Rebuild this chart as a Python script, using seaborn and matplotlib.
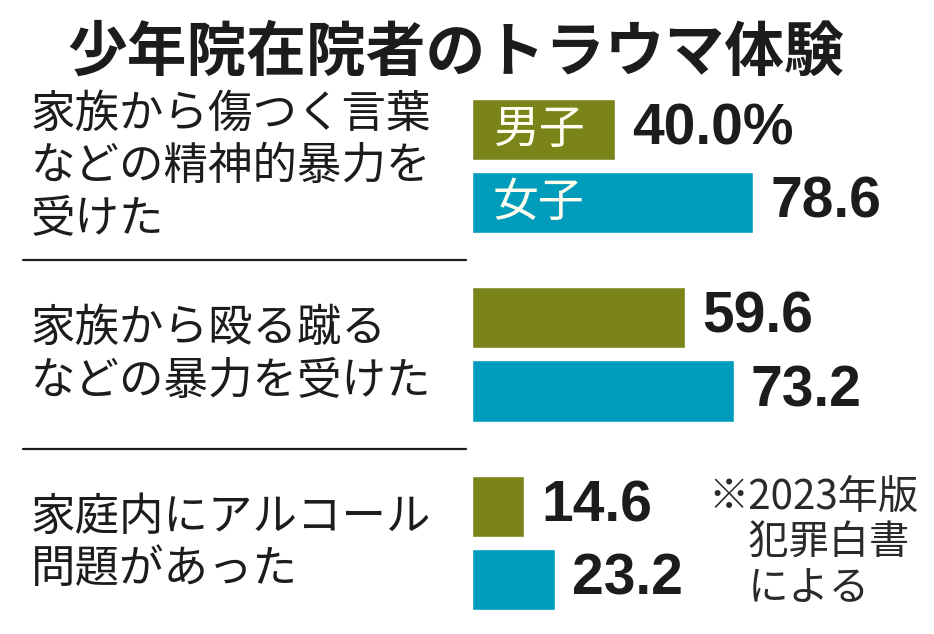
import pandas as pd
import matplotlib.pyplot as plt
import matplotlib.transforms as mtransforms
import seaborn as sns

# Data (percent)
items = [
    "家族から傷つく言葉\nなどの精神的暴力を\n受けた",
    "家族から殴る蹴る\nなどの暴力を受けた",
    "家庭内にアルコール\n問題があった",
]
male = [40.0, 59.6, 14.6]
female = [78.6, 73.2, 23.2]
sex_labels = ["男子", "女子"]

title = "少年院在院者のトラウマ体験"
note = "※2023年版\n\u3000犯罪白書\n\u3000による"

olive = "#7b8419"
teal = "#009cbc"
ink = "#1c1c1c"

df = pd.DataFrame({
    "item": items * 2,
    "value": male + female,
    "sex": [sex_labels[0]] * len(items) + [sex_labels[1]] * len(items),
})

sns.set_theme(style="white")
plt.rcParams["font.family"] = ["Noto Sans CJK JP", "DejaVu Sans"]

fig = plt.figure(figsize=(9.34, 6.34), dpi=100)
ax = fig.add_axes([472 / 934, 9 / 634, 462 / 934, 535 / 634])

sns.barplot(
    data=df, y="item", x="value", hue="sex", orient="h",
    palette=[olive, teal], width=0.775, gap=0.164,
    legend=False, ax=ax, saturation=1,
)

ax.set_xlim(0, 462 / 3.58)
ax.set_ylim(2.435, -0.403)
ax.set_axis_off()

# value labels at the end of each bar
for i, cont in enumerate(ax.containers):
    vals = male if i == 0 else female
    labels = [f"{v:.1f}" for v in vals]
    if i == 0:
        labels[0] = labels[0] + "%"
    ax.bar_label(cont, labels=labels, padding=12,
                 fontsize=41, fontweight="bold", color=ink,
                 family="Liberation Sans")

# sex labels inside the first pair of bars
for i, cont in enumerate(ax.containers):
    bar = cont[0]
    ax.annotate(sex_labels[i], xy=(0, bar.get_y() + bar.get_height() / 2),
                xytext=(15, 0), textcoords="offset points",
                ha="left", va="center", fontsize=33, color="#fffdf0")

# category labels on the left
trans = mtransforms.blended_transform_factory(fig.transFigure, ax.transData)
for i, lab in enumerate(items):
    ax.text(31 / 934, i, lab, transform=trans, ha="left", va="center",
            fontsize=32, color=ink, linespacing=1.18)

# separators between groups
for y in [0.5, 1.5]:
    ax.axhline(y, xmin=-0.972, xmax=-0.013, clip_on=False, color=ink, lw=1.6)

fig.text(0.488, 1 - 54 / 634, title, ha="center", va="center",
         fontsize=43, fontweight="bold", color=ink)

fig.text(708 / 934, 1 - 543 / 634, note, ha="left", va="center",
         fontsize=29, color="#2a2a2a", linespacing=1.14)

fig.savefig("out.png", dpi=100, facecolor="white")
